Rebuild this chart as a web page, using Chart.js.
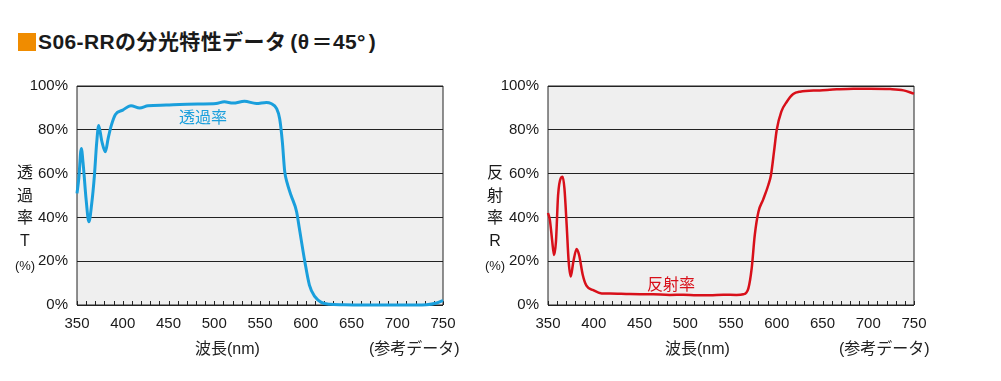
<!DOCTYPE html>
<html><head><meta charset="utf-8">
<script src="https://cdn.jsdelivr.net/npm/chart.js@4.4.1/dist/chart.umd.min.js"></script>
<style>
html,body{margin:0;padding:0;background:#fff;width:1001px;height:381px;overflow:hidden;}
.abs{position:absolute;white-space:nowrap;}
#title{left:38px;top:27px;font-family:"Liberation Sans","Noto Sans CJK JP";font-weight:bold;font-size:21px;color:#1a1a1a;line-height:30px;letter-spacing:0.4px;}
#sq{left:18px;top:33px;width:18px;height:18px;background:#f08c00;}
.jp{font-family:"Liberation Sans","Noto Sans CJK JP";color:#222;font-size:16px;}
.ytitle{text-align:center;width:22px;line-height:22.5px;font-family:"Noto Sans CJK JP";font-size:16px;color:#1a1a1a;}
canvas{position:absolute;top:0;}
</style></head><body>
<div id="sq" class="abs"></div>
<div id="title" class="abs">S06-RRの分光特性データ<span style="margin-left:4px">(</span>θ<span style="margin-left:2px">＝</span>45°<span style="margin-left:3px">)</span></div>
<canvas id="c1" width="470" height="381" style="left:0;width:470px;height:381px"></canvas>
<canvas id="c2" width="531" height="381" style="left:470px;width:531px;height:381px"></canvas>
<div class="abs ytitle" style="left:14px;top:160px">透<br>過<br>率<br><span style="font-family:'Liberation Sans'">T</span><br><span style="font-family:'Liberation Sans';font-size:13px">(%)</span></div>
<div class="abs ytitle" style="left:484px;top:160px">反<br>射<br>率<br><span style="font-family:'Liberation Sans'">R</span><br><span style="font-family:'Liberation Sans';font-size:13px">(%)</span></div>
<div class="abs jp" style="left:195px;top:335px">波長(nm)</div>
<div class="abs jp" style="left:369px;top:335px">(参考データ)</div>
<div class="abs jp" style="left:665px;top:335px">波長(nm)</div>
<div class="abs jp" style="left:839px;top:335px">(参考データ)</div>
<div class="abs" style="left:179px;top:104px;font-family:'Noto Sans CJK JP';font-size:16px;color:#1a9fdc">透過率</div>
<div class="abs" style="left:647px;top:271px;font-family:'Noto Sans CJK JP';font-size:16px;color:#d8101a">反射率</div>
<script>
const xTicks = [350,400,450,500,550,600,650,700,750];
const yTicks = [0,20,40,60,80,100];

const wlT = [350,352,354.7,356.6,360,363,366,369,371.5,373.7,377,381,384,387.5,392,400,409,418.5,427.6,447.6,462,484,502,511,520.5,533,546,557,562,568,571.5,574.4,577,579.5,584,590,593,599,604,610,617,626,640,660,700,720,732,743,750];
const transmission = [51,58,71.5,65,48,38,46,59,74,82,75,70,76,82,87,89,91,90,91,91.3,91.6,91.8,92,92.8,92.2,93,92,92.5,92,89.8,85,74.6,61,56,50,42.6,35,19.8,9.1,3.8,1.2,0.3,0.1,0,0,0,0.1,0.9,2.1];

const wlR = [350,352,354.4,356.6,358.7,361,364,366,368,370.4,372.6,374.8,377.7,381.3,384,388,392,399.5,408.7,417.8,439.6,465,483,498,512.5,527,541.6,556,563.5,569,572.6,576,580,585,590.8,593.7,597,600,605,611,618,625.4,647,665.5,683.7,702,724,738.5,750];
const reflectance = [42,39,30,22.8,29,50,58,58.6,53,36.5,19.8,13,19.8,25.6,22.8,13.7,8.8,6.8,5.3,5.2,5,4.9,4.6,4.7,4.4,4.4,4.7,4.6,4.9,7.6,16.7,32,42.6,48,54.8,59.4,70,80,88.3,92.8,96.3,97.4,98,98.5,98.8,98.8,98.6,98,96.5];

const frame = {
  id:'frame',
  beforeDraw(chart){
    const a = chart.chartArea, c = chart.ctx;
    c.save(); c.fillStyle='#efefef'; c.fillRect(a.left,a.top,a.right-a.left,a.bottom-a.top); c.restore();
  },
  beforeDatasetsDraw(chart){
    const a = chart.chartArea, c = chart.ctx, xs = chart.scales.x;
    c.save();
    c.strokeStyle='#222'; c.lineWidth=1;
    c.beginPath();
    c.moveTo(a.left,a.top); c.lineTo(a.right,a.top); c.lineTo(a.right,a.bottom); c.lineTo(a.left,a.bottom); c.closePath();
    c.stroke();
    for(let v=350; v<=750; v+=10){
      const px = Math.round(xs.getPixelForValue(v))+0.5;
      c.beginPath(); c.moveTo(px,a.bottom); c.lineTo(px,a.bottom-4); c.stroke();
    }
    c.restore();
  }
};

function make(id, wl, vals, color, yw, padR, lw){
  return new Chart(document.getElementById(id), {
    type:'line',
    data:{datasets:[{data: wl.map((w,i)=>({x:w,y:vals[i]})), borderColor:color, borderWidth:lw, pointRadius:0, cubicInterpolationMode:'monotone', fill:false, clip:false}]},
    options:{
      responsive:false, animation:false, devicePixelRatio:1,
      layout:{padding:{top:86,right:padR,left:0,bottom:0}},
      plugins:{legend:{display:false},tooltip:{enabled:false}},
      scales:{
        x:{type:'linear',min:350,max:750,
          afterFit(s){s.height=76;},
          afterBuildTicks(s){s.ticks = xTicks.map(v=>({value:v}));},
          grid:{display:false,drawTicks:false},
          border:{display:false},
          ticks:{color:'#1a1a1a',font:{family:'Liberation Sans',size:15},padding:10,maxRotation:0,autoSkip:false,callback:v=>String(v)}},
        y:{min:0,max:100,
          afterFit(s){s.width=yw;},
          afterBuildTicks(s){s.ticks = yTicks.map(v=>({value:v}));},
          grid:{color:'#222',lineWidth:1,drawTicks:false},
          border:{display:false},
          ticks:{color:'#1a1a1a',font:{family:'Liberation Sans',size:15},padding:9,callback:v=>v+'%'}}
      }
    },
    plugins:[frame]
  });
}
make('c1', wlT, transmission, '#1a9fdc', 77, 27, 3);
make('c2', wlR, reflectance, '#d8101a', 78, 87, 2.5);
</script>
</body></html>
